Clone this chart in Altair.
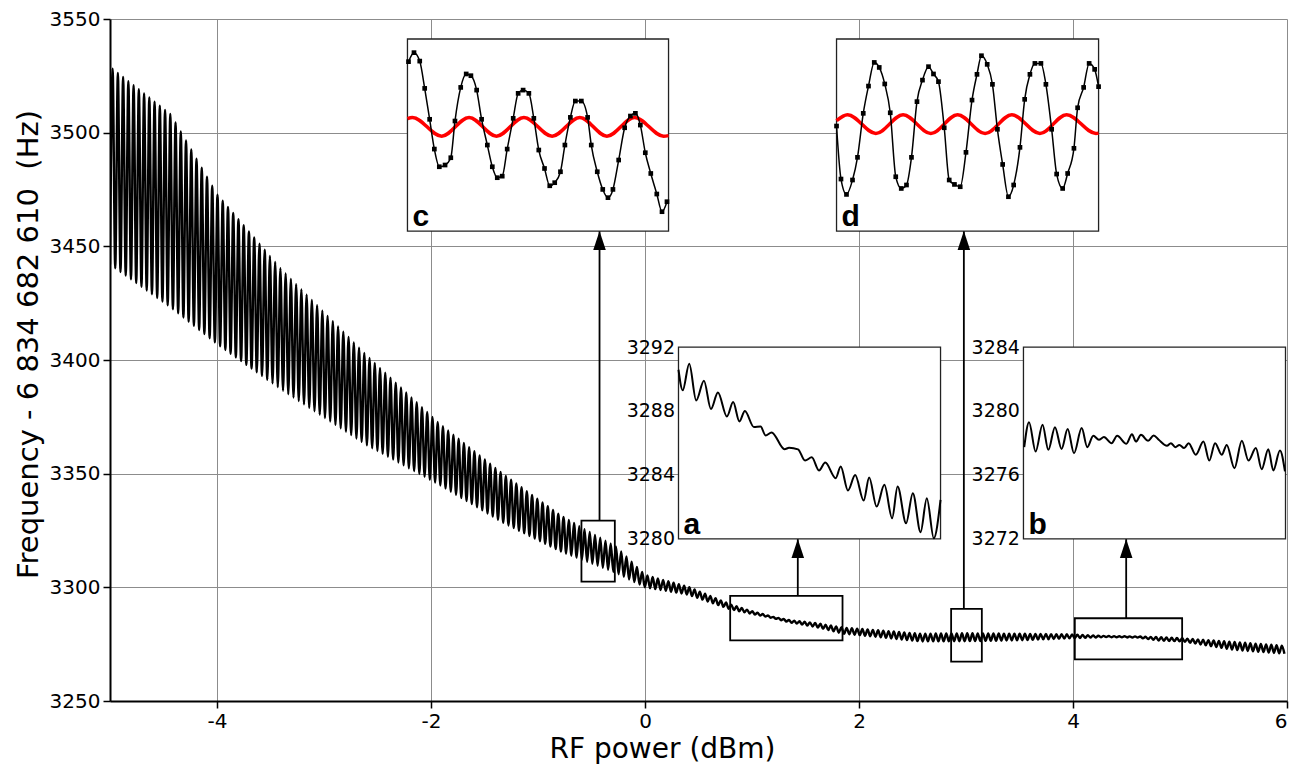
import altair as alt
import numpy as np
import pandas as pd

W, H = 1177, 682
X_DOMAIN = [-5, 6]
Y_DOMAIN = [3250, 3550]
x_tick_values = [-4, -2, 0, 2, 4, 6]
y_tick_values = [3250, 3300, 3350, 3400, 3450, 3500, 3550]

# ---- main trace: envelope (upper / lower extremes) of the fast oscillation
env_x = [-5.0, -4.43, -4.0, -3.4, -2.6, -1.92, -1.33, -0.8, -0.58, -0.27,
         0.0, 0.4, 0.8, 1.0, 1.2, 1.35, 1.6, 1.85, 2.0, 2.57,
         3.0, 3.5, 4.0, 4.3, 4.6, 4.8, 5.02, 5.5, 6.0]
env_upper = [3529, 3508, 3473, 3440, 3402, 3372, 3350, 3332, 3326, 3318,
             3305.5, 3300.3, 3292.5, 3289.5, 3287.0, 3285.6, 3284.3, 3282.3, 3281.8, 3279.6,
             3279.8, 3279.6, 3279.3, 3278.6, 3278.4, 3278.1, 3277.6, 3276.0, 3274.2]
env_lower = [3442, 3423, 3407, 3387, 3362.5, 3345, 3328.5, 3316, 3312, 3306.3,
             3300, 3296.8, 3290.3, 3288.3, 3286.4, 3284.6, 3282.5, 3279.6, 3279.0, 3276.2,
             3276.3, 3276.7, 3277.6, 3278.1, 3277.9, 3276.6, 3276.2, 3272.5, 3270.7]
half_period = 0.0245  # dBm between a trough and the next peak

# ---- inset a (RF power 0.80 .. 1.85 dBm)
a_x = [0.800, 0.817, 0.843, 0.871, 0.902, 0.930, 0.958, 0.994, 1.019, 1.044, 1.066, 1.102, 1.129,
       1.149, 1.173, 1.225, 1.243, 1.279, 1.307, 1.334, 1.363, 1.388, 1.430, 1.450, 1.479, 1.508,
       1.542, 1.564, 1.594, 1.625, 1.656, 1.678, 1.712, 1.739, 1.770, 1.795, 1.823, 1.850]
a_y = [3290.58, 3289.29, 3290.96, 3288.66, 3289.89, 3288.12, 3289.16, 3287.66, 3288.56, 3287.35,
       3288.00, 3287.00, 3287.03, 3286.47, 3286.66, 3285.61, 3285.70, 3285.60, 3284.90, 3285.10,
       3284.28, 3284.78, 3283.80, 3284.53, 3283.03, 3284.00, 3282.40, 3283.84, 3282.02, 3283.38,
       3281.29, 3283.28, 3280.98, 3282.86, 3280.42, 3282.55, 3280.04, 3282.44]
a_ticks = [3280, 3284, 3288, 3292]

# ---- inset b (RF power 4.03 .. 5.02 dBm)
b_x = [4.033, 4.051, 4.076, 4.102, 4.124, 4.149, 4.174, 4.197, 4.221, 4.250, 4.271, 4.294, 4.315,
       4.334, 4.363, 4.384, 4.419, 4.440, 4.455, 4.474, 4.501, 4.522, 4.541, 4.572, 4.587, 4.604,
       4.619, 4.637, 4.654, 4.681, 4.710, 4.732, 4.754, 4.779, 4.798, 4.827, 4.855, 4.880, 4.908,
       4.930, 4.955, 4.974, 4.999, 5.018]
b_y = [3277.74, 3279.30, 3277.47, 3279.14, 3277.57, 3278.99, 3277.63, 3278.87, 3277.36, 3278.93,
       3277.74, 3278.45, 3278.20, 3278.37, 3277.99, 3278.45, 3277.95, 3278.55, 3278.09, 3278.51,
       3278.14, 3278.47, 3278.20, 3277.82, 3277.99, 3277.74, 3277.88, 3277.68, 3277.99, 3277.26,
       3278.09, 3276.90, 3277.99, 3277.26, 3277.88, 3276.42, 3278.14, 3276.90, 3277.68, 3276.36,
       3277.61, 3276.28, 3277.53, 3276.22]
b_ticks = [3272, 3276, 3280, 3284]

# ---- inset c (relative units)
c_x = [0.004, 0.025, 0.047, 0.066, 0.085, 0.103, 0.122, 0.144, 0.166, 0.182, 0.204, 0.225, 0.243,
       0.265, 0.284, 0.306, 0.325, 0.344, 0.363, 0.382, 0.405, 0.424, 0.443, 0.465, 0.484, 0.503,
       0.525, 0.545, 0.564, 0.586, 0.603, 0.624, 0.643, 0.666, 0.690, 0.704, 0.727, 0.748, 0.768,
       0.787, 0.809, 0.832, 0.854, 0.873, 0.892, 0.911, 0.932, 0.955, 0.975, 0.994]
c_y = [0.882, 0.929, 0.885, 0.743, 0.582, 0.427, 0.335, 0.344, 0.382, 0.573, 0.748, 0.818, 0.809,
       0.734, 0.582, 0.448, 0.335, 0.278, 0.286, 0.427, 0.587, 0.717, 0.734, 0.717, 0.587, 0.422,
       0.326, 0.236, 0.252, 0.309, 0.448, 0.592, 0.677, 0.677, 0.592, 0.448, 0.309, 0.217, 0.174,
       0.217, 0.370, 0.538, 0.599, 0.613, 0.552, 0.408, 0.300, 0.193, 0.101, 0.153]
c_red_x = [0.0, 0.019, 0.131, 0.236, 0.341, 0.446, 0.554, 0.660, 0.764, 0.870, 0.981, 1.0]
c_red_y = [0.585, 0.592, 0.494, 0.592, 0.494, 0.592, 0.494, 0.592, 0.494, 0.592, 0.494, 0.497]

# ---- inset d (relative units)
d_x = [0.000, 0.017, 0.038, 0.061, 0.080, 0.102, 0.122, 0.144, 0.163, 0.184, 0.205, 0.226, 0.247,
       0.267, 0.286, 0.307, 0.328, 0.351, 0.370, 0.389, 0.411, 0.430, 0.450, 0.472, 0.494, 0.517,
       0.536, 0.553, 0.575, 0.595, 0.614, 0.634, 0.656, 0.676, 0.700, 0.718, 0.738, 0.757, 0.780,
       0.799, 0.821, 0.840, 0.863, 0.882, 0.906, 0.920, 0.943, 0.964, 0.985, 1.000]
d_y = [0.547, 0.271, 0.191, 0.266, 0.384, 0.613, 0.755, 0.878, 0.852, 0.766, 0.616, 0.283, 0.222,
       0.240, 0.384, 0.674, 0.786, 0.856, 0.818, 0.778, 0.538, 0.266, 0.243, 0.231, 0.410, 0.682,
       0.816, 0.913, 0.868, 0.764, 0.530, 0.347, 0.179, 0.240, 0.436, 0.686, 0.816, 0.873, 0.873,
       0.764, 0.530, 0.297, 0.222, 0.300, 0.431, 0.642, 0.748, 0.873, 0.842, 0.752]
d_red_x = [0.0, 0.042, 0.150, 0.254, 0.360, 0.462, 0.567, 0.669, 0.776, 0.878, 0.990, 1.0]
d_red_y = [0.575, 0.606, 0.508, 0.606, 0.508, 0.606, 0.508, 0.606, 0.508, 0.606, 0.508, 0.510]

# ---- inset frames (in main-plot coordinates), order a, b, c, d
inset_names = ["a", "b", "c", "d"]
inset_x0 = [0.313, 3.537, -2.220, 1.790]
inset_x1 = [2.762, 5.986, 0.220, 4.239]
inset_y0 = [3321.3, 3321.3, 3456.7, 3456.7]
inset_y1 = [3405.7, 3405.7, 3541.2, 3541.2]

# ---- zoom windows on the main trace, order a, b, c, d
src_x0 = [0.796, 4.017, -0.594, 2.861]
src_x1 = [1.846, 5.020, -0.282, 3.148]
src_y0 = [3276.7, 3268.3, 3302.5, 3267.3]
src_y1 = [3296.2, 3286.4, 3329.3, 3290.5]
arrow_x = [1.428, 4.497, -0.425, 2.980]

FONT = "DejaVu Sans"


def sx(x):
    return (x - X_DOMAIN[0]) / (X_DOMAIN[1] - X_DOMAIN[0]) * W


def sy(y):
    return (Y_DOMAIN[1] - y) / (Y_DOMAIN[1] - Y_DOMAIN[0]) * H


main_xs = alt.Scale(domain=X_DOMAIN, nice=False, zero=False)
main_ys = alt.Scale(domain=Y_DOMAIN, nice=False, zero=False)

# main trace points (alternating trough / peak)
mx, my = [], []
k = 0
while True:
    xv = X_DOMAIN[0] + k * half_period
    if xv > X_DOMAIN[1] + 1e-9:
        break
    env = env_lower if k % 2 == 0 else env_upper
    mx.append(xv)
    my.append(float(np.interp(xv, env_x, env)))
    k += 1
main_df = pd.DataFrame({"x": mx, "y": my})

main_line = alt.Chart(main_df).mark_line(
    color="black", strokeWidth=2.4, interpolate="monotone", clip=True
).encode(
    x=alt.X("x:Q", scale=main_xs,
            axis=alt.Axis(values=x_tick_values, title="RF power (dBm)", grid=True,
                          labelExpr="'' + datum.value", titleX=552, titleY=56,
                          titleFontSize=28, titleBaseline="alphabetic", titleAlign="center")),
    y=alt.Y("y:Q", scale=main_ys,
            axis=alt.Axis(values=y_tick_values, title="Frequency - 6 834 682 610\u00a0 (Hz)",
                          grid=True, labelExpr="'' + datum.value", titleX=-82, titleY=325,
                          titleAngle=270, titleBaseline="middle", titleAlign="center")),
)

src_df = pd.DataFrame({"x0": src_x0, "x1": src_x1, "y0": src_y0, "y1": src_y1})
src_boxes = alt.Chart(src_df).mark_rect(
    fillOpacity=0, stroke="black", strokeWidth=1.8
).encode(
    x=alt.X("x0:Q", scale=main_xs, axis=None), x2="x1:Q",
    y=alt.Y("y0:Q", scale=main_ys, axis=None), y2="y1:Q",
)

arrow_df = pd.DataFrame({"x": arrow_x, "y0": src_y1, "y1": inset_y0})
arrow_stems = alt.Chart(arrow_df).mark_rule(color="black", strokeWidth=1.8).encode(
    x=alt.X("x:Q", scale=main_xs, axis=None),
    y=alt.Y("y0:Q", scale=main_ys, axis=None), y2="y1:Q",
)
arrow_heads = alt.Chart(arrow_df).mark_point(
    shape="M0,0L0.33,1L-0.33,1Z", filled=True, size=1444, color="black", opacity=1
).encode(
    x=alt.X("x:Q", scale=main_xs, axis=None),
    y=alt.Y("y1:Q", scale=main_ys, axis=None),
)

frame_df = pd.DataFrame({"name": inset_names, "x0": inset_x0, "x1": inset_x1,
                         "y0": inset_y0, "y1": inset_y1})
frames = alt.Chart(frame_df).mark_rect(
    fill="white", stroke="#222222", strokeWidth=1.3
).encode(
    x=alt.X("x0:Q", scale=main_xs, axis=None), x2="x1:Q",
    y=alt.Y("y0:Q", scale=main_ys, axis=None), y2="y1:Q",
)
letters = alt.Chart(frame_df).mark_text(
    font="Liberation Sans", fontSize=30, fontWeight="bold", align="left",
    baseline="alphabetic", dx=5, dy=-5, color="black"
).encode(
    x=alt.X("x0:Q", scale=main_xs, axis=None),
    y=alt.Y("y0:Q", scale=main_ys, axis=None),
    text="name:N",
)


def inset_scales(i, xdom, ydom):
    xs = alt.Scale(domain=xdom, range=[sx(inset_x0[i]), sx(inset_x1[i])], nice=False, zero=False)
    ys = alt.Scale(domain=ydom, range=[sy(inset_y0[i]), sy(inset_y1[i])], nice=False, zero=False)
    return xs, ys


def inset_axis(i, values):
    return alt.Axis(orient="left", offset=-sx(inset_x0[i]), values=values, tickSize=0,
                    domain=False, grid=False, labelPadding=4, labelFontSize=19,
                    labelFont=FONT, labelColor="black", title=None,
                    labelExpr="'' + datum.value")


# inset a
axs, ays = inset_scales(0, [0.80, 1.85], [3280, 3292])
inset_a = alt.Chart(pd.DataFrame({"x": a_x, "y": a_y})).mark_line(
    color="black", strokeWidth=2, interpolate="monotone"
).encode(
    x=alt.X("x:Q", scale=axs, axis=None),
    y=alt.Y("y:Q", scale=ays, axis=inset_axis(0, a_ticks)),
)

# inset b
bxs, bys = inset_scales(1, [4.03, 5.02], [3272, 3284])
inset_b = alt.Chart(pd.DataFrame({"x": b_x, "y": b_y})).mark_line(
    color="black", strokeWidth=2, interpolate="monotone"
).encode(
    x=alt.X("x:Q", scale=bxs, axis=None),
    y=alt.Y("y:Q", scale=bys, axis=inset_axis(1, b_ticks)),
)


def marker_inset(i, xs_, ys_, rx, ry):
    sxs, sys_ = inset_scales(i, [0, 1], [0, 1])
    df = pd.DataFrame({"x": xs_, "y": ys_})
    red = alt.Chart(pd.DataFrame({"x": rx, "y": ry})).mark_line(
        color="#ff0000", strokeWidth=3.5, interpolate="monotone"
    ).encode(x=alt.X("x:Q", scale=sxs, axis=None), y=alt.Y("y:Q", scale=sys_, axis=None))
    line = alt.Chart(df).mark_line(
        color="black", strokeWidth=1.5, interpolate="monotone"
    ).encode(x=alt.X("x:Q", scale=sxs, axis=None), y=alt.Y("y:Q", scale=sys_, axis=None))
    pts = alt.Chart(df).mark_point(
        shape="square", filled=True, size=22, color="black", opacity=1
    ).encode(x=alt.X("x:Q", scale=sxs, axis=None), y=alt.Y("y:Q", scale=sys_, axis=None))
    return [red, line, pts]


layers = [main_line, src_boxes, arrow_stems, arrow_heads, frames, inset_a, inset_b]
layers += marker_inset(2, c_x, c_y, c_red_x, c_red_y)
layers += marker_inset(3, d_x, d_y, d_red_x, d_red_y)
layers += [letters]

chart = alt.layer(*layers).resolve_scale(
    x="independent", y="independent"
).properties(
    width=W, height=H,
    padding={"left": 102, "top": 11, "right": 12, "bottom": 64},
    autosize=alt.AutoSizeParams(type="none"),
    background="white",
).configure_view(
    stroke="transparent"
).configure_axis(
    domainColor="black", domainWidth=2, tickColor="black", tickWidth=1.5, tickSize=7,
    gridColor="#8c8c8c", gridWidth=1, labelFont=FONT, labelFontSize=20, labelColor="black",
    labelPadding=3, titleFont=FONT, titleFontSize=29, titleFontWeight="normal",
    titleColor="black",
)

chart.save("out.html", embed_options={"renderer": "svg", "actions": False})
